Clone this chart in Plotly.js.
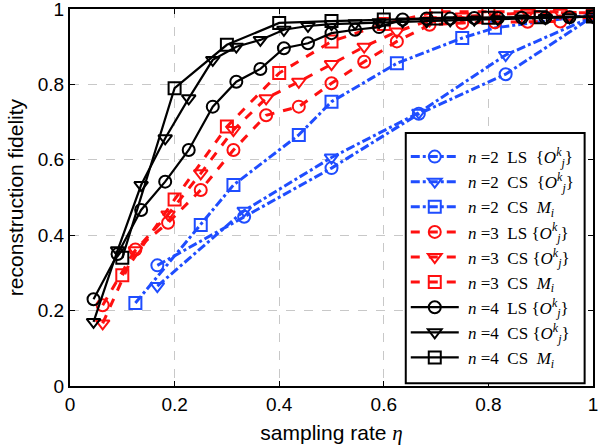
<!DOCTYPE html>
<html>
<head>
<meta charset="utf-8">
<script src="https://cdn.plot.ly/plotly-3.0.1.min.js"></script>
<style>html,body{margin:0;padding:0;background:#fff;}#chart{width:599px;height:448px;}</style>
</head>
<body>
<div id="chart"></div>
<script>
// ---- data ----
const xN2 = [0.167, 0.333, 0.5, 0.667, 0.833, 1.0];
const yN2LS = [0.32, 0.449, 0.578, 0.722, 0.827, 0.98];
const yN2CS = [0.265, 0.465, 0.606, 0.725, 0.878, 0.98];

const xN2Mi = [0.125, 0.25, 0.3125, 0.4375, 0.5, 0.625, 0.75, 0.8125, 1.0];
const yN2Mi = [0.22, 0.427, 0.533, 0.666, 0.754, 0.856, 0.923, 0.95, 0.985];

const xN3 = [0.0625, 0.125, 0.1875, 0.25, 0.3125, 0.375, 0.4375, 0.5, 0.5625, 0.625, 0.6875, 0.75, 0.8125, 0.875, 0.9375, 1.0];
const yN3LS = [0.214, 0.362, 0.433, 0.52, 0.626, 0.718, 0.741, 0.803, 0.86, 0.914, 0.958, 0.963, 0.965, 0.966, 0.967, 0.98];
const yN3CS = [0.166, 0.36, 0.455, 0.564, 0.679, 0.763, 0.807, 0.854, 0.90, 0.94, 0.97, 0.98, 0.985, 0.99, 0.99, 0.99];

const xN3Mi = [0.1, 0.2, 0.3, 0.4, 0.5, 0.6, 0.7, 0.8, 0.9, 1.0];
const yN3Mi = [0.294, 0.495, 0.688, 0.83, 0.914, 0.96, 0.993, 0.993, 0.993, 0.99];

const xN4 = [0.045, 0.091, 0.136, 0.182, 0.227, 0.273, 0.318, 0.364, 0.409, 0.455, 0.5, 0.545, 0.591, 0.636, 0.682, 0.727, 0.773, 0.818, 0.864, 0.909, 0.955, 1.0];
const yN4LS = [0.23, 0.35, 0.467, 0.542, 0.626, 0.741, 0.807, 0.841, 0.896, 0.909, 0.936, 0.945, 0.952, 0.972, 0.975, 0.975, 0.976, 0.976, 0.977, 0.977, 0.978, 0.98];
const yN4CS = [0.17, 0.36, 0.533, 0.657, 0.763, 0.865, 0.90, 0.918, 0.945, 0.955, 0.96, 0.962, 0.965, 0.967, 0.968, 0.97, 0.972, 0.973, 0.975, 0.976, 0.978, 0.98];

const xN4Mi = [0.1, 0.2, 0.3, 0.4, 0.5, 0.6, 0.7, 0.8, 0.9, 1.0];
const yN4Mi = [0.34, 0.79, 0.905, 0.963, 0.968, 0.972, 0.975, 0.977, 0.978, 0.98];

const names = [
  "\u00a0<i>n</i>\u00a0=2\u00a0\u00a0LS\u00a0\u00a0{<i>O</i><sup><i>k</i></sup><sub><i>j</i></sub>}",
  "\u00a0<i>n</i>\u00a0=2\u00a0\u00a0CS\u00a0\u00a0{<i>O</i><sup><i>k</i></sup><sub><i>j</i></sub>}",
  "\u00a0<i>n</i>\u00a0=2\u00a0\u00a0CS\u00a0\u00a0<i>M</i><sub><i>i</i></sub>",
  "\u00a0<i>n</i>\u00a0=3\u00a0\u00a0LS\u00a0{<i>O</i><sup><i>k</i></sup><sub><i>j</i></sub>}",
  "\u00a0<i>n</i>\u00a0=3\u00a0\u00a0CS\u00a0{<i>O</i><sup><i>k</i></sup><sub><i>j</i></sub>}",
  "\u00a0<i>n</i>\u00a0=3\u00a0\u00a0CS\u00a0\u00a0<i>M</i><sub><i>i</i></sub>",
  "\u00a0<i>n</i>\u00a0=4\u00a0\u00a0LS\u00a0{<i>O</i><sup><i>k</i></sup><sub><i>j</i></sub>}",
  "\u00a0<i>n</i>\u00a0=4\u00a0\u00a0CS\u00a0{<i>O</i><sup><i>k</i></sup><sub><i>j</i></sub>}",
  "\u00a0<i>n</i>\u00a0=4\u00a0\u00a0CS\u00a0\u00a0<i>M</i><sub><i>i</i></sub>"
];

const BLUE = '#1f4dff', RED = '#ff1010', BLACK = '#000000';

function tr(x, y, name, color, dash, symbol, width) {
  return {
    x: x, y: y, name: name, type: 'scatter', mode: 'lines+markers',
    line: {color: color, dash: dash, width: width},
    marker: {symbol: symbol, size: 12, color: color, line: {color: color, width: 2}}
  };
}

const data = [
  tr(xN2, yN2LS, names[0], BLUE, 'dashdot', 'circle-open', 3),
  tr(xN2, yN2CS, names[1], BLUE, 'dashdot', 'triangle-down-open', 3),
  tr(xN2Mi, yN2Mi, names[2], BLUE, 'dashdot', 'square-open', 3),
  tr(xN3, yN3LS, names[3], RED, 'dash', 'circle-open', 3),
  tr(xN3, yN3CS, names[4], RED, 'dash', 'triangle-down-open', 3),
  tr(xN3Mi, yN3Mi, names[5], RED, 'dash', 'square-open', 3),
  tr(xN4, yN4LS, names[6], BLACK, 'solid', 'circle-open', 2.2),
  tr(xN4, yN4CS, names[7], BLACK, 'solid', 'triangle-down-open', 2.2),
  tr(xN4Mi, yN4Mi, names[8], BLACK, 'solid', 'square-open', 2.2)
];

const tickVals = [0, 0.2, 0.4, 0.6, 0.8, 1];
const tickText = ['0', '0.2', '0.4', '0.6', '0.8', '1'];

const axisCommon = {
  range: [0, 1], tickvals: tickVals, ticktext: tickText,
  ticks: 'inside', ticklen: 5, tickwidth: 1, tickcolor: '#000',
  showline: true, linewidth: 2, linecolor: '#000', mirror: 'ticks',
  showgrid: true, gridcolor: '#c8c8c8', griddash: 'dash', gridwidth: 1,
  zeroline: false, fixedrange: true, ticklabeloverflow: 'allow',
  tickfont: {family: 'Liberation Sans, Arial, sans-serif', size: 19, color: '#000'}
};

const layout = {
  width: 599, height: 448,
  margin: {l: 70, r: 6, t: 9, b: 62},
  paper_bgcolor: '#fff', plot_bgcolor: '#fff',
  showlegend: true,
  xaxis: Object.assign({}, axisCommon, {
    title: {text: 'sampling rate <span style="font-family:Liberation Serif;font-style:italic">η</span>',
            font: {family: 'Liberation Sans, Arial, sans-serif', size: 21, color: '#000'}, standoff: 12}
  }),
  yaxis: Object.assign({}, axisCommon, {
    title: {text: 'reconstruction fidelity',
            font: {family: 'Liberation Sans, Arial, sans-serif', size: 21, color: '#000'}, standoff: 8}
  }),
  shapes: [{
    type: 'rect', xref: 'paper', yref: 'paper', layer: 'above',
    x0: 0.642, x1: 0.984, y0: 0.007, y1: 0.671,
    fillcolor: '#fff', line: {color: '#000', width: 2}
  }],
  legend: {
    x: 0.642, y: 0.655, xanchor: 'left', yanchor: 'top',
    bgcolor: 'rgba(255,255,255,0)', borderwidth: 0,
    font: {family: 'Liberation Serif, Times New Roman, serif', size: 17, color: '#000'},
    tracegroupgap: 0, itemwidth: 48
  }
};

Plotly.newPlot('chart', data, layout, {displayModeBar: false, staticPlot: true});
</script>
</body>
</html>
